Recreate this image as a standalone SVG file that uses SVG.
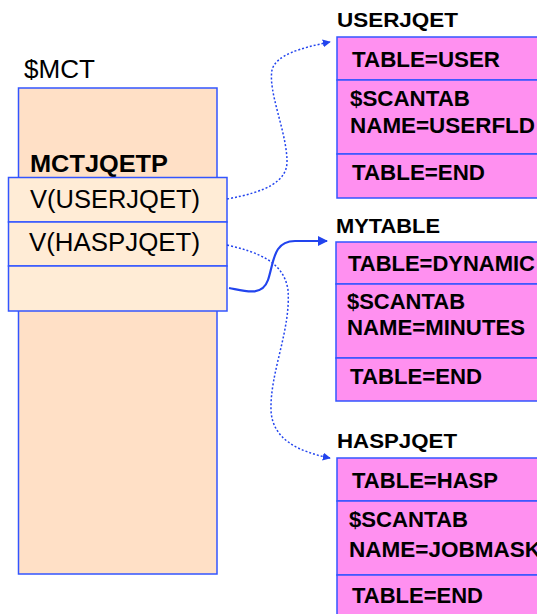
<svg xmlns="http://www.w3.org/2000/svg" width="537" height="614" viewBox="0 0 537 614">
<defs>
<style>
.box{stroke:#3355ff;stroke-width:1.5}
.mct{fill:#ffe0c6}
.entry{fill:#ffecd6}
.tab{fill:#ff90f0}
.t{font-family:"Liberation Sans",Arial,sans-serif;fill:#000}
.reg{font-size:25px}
.b{font-size:22px;font-weight:bold}
.lbl{font-size:21px;font-weight:bold}
.dot{fill:none;stroke:#2244ee;stroke-width:1.5;stroke-dasharray:2 2}
.sol{fill:none;stroke:#2244ee;stroke-width:2.2}
</style>
<marker id="ah" viewBox="0 0 10 10" refX="9" refY="5" markerWidth="8" markerHeight="8" markerUnits="userSpaceOnUse" orient="auto">
<path d="M0,0 L10,5 L0,10 Z" fill="#2244ee"/>
</marker>
<marker id="ah2" viewBox="0 0 10 10" refX="9" refY="5" markerWidth="10" markerHeight="10" markerUnits="userSpaceOnUse" orient="auto">
<path d="M0,0 L10,5 L0,10 Z" fill="#2244ee"/>
</marker>
</defs>
<g id="mct">
<text class="t reg" x="24" y="78" textLength="71" lengthAdjust="spacingAndGlyphs">$MCT</text>
<rect class="box mct" x="18.5" y="88" width="198.5" height="486"/>
<text class="t lbl" x="30" y="172" style="font-size:23px" textLength="138" lengthAdjust="spacingAndGlyphs">MCTJQETP</text>
</g>
<g id="mctjqetp">
<rect class="box entry" x="8.5" y="177.5" width="218.5" height="44.5"/>
<text class="t reg" x="30" y="208" textLength="170" lengthAdjust="spacingAndGlyphs">V(USERJQET)</text>
<rect class="box entry" x="8.5" y="222" width="218.5" height="44"/>
<text class="t reg" x="29" y="251" textLength="171" lengthAdjust="spacingAndGlyphs">V(HASPJQET)</text>
<rect class="box entry" x="8.5" y="266" width="218.5" height="45"/>
</g>
<g id="userjqet">
<text class="t lbl" x="337" y="27" textLength="121" lengthAdjust="spacingAndGlyphs">USERJQET</text>
<rect class="box tab" x="337" y="37" width="210" height="43"/>
<text class="t b" x="352" y="67" textLength="148" lengthAdjust="spacingAndGlyphs">TABLE=USER</text>
<rect class="box tab" x="337" y="80" width="210" height="74"/>
<text class="t b" x="350" y="106" textLength="120" lengthAdjust="spacingAndGlyphs">$SCANTAB</text>
<text class="t b" x="350" y="133" textLength="185" lengthAdjust="spacingAndGlyphs">NAME=USERFLD</text>
<rect class="box tab" x="337" y="154" width="210" height="44"/>
<text class="t b" x="352" y="180" textLength="133" lengthAdjust="spacingAndGlyphs">TABLE=END</text>
</g>
<g id="mytable">
<text class="t lbl" x="336" y="233" textLength="104" lengthAdjust="spacingAndGlyphs">MYTABLE</text>
<rect class="box tab" x="336" y="242" width="210" height="42"/>
<text class="t b" x="348" y="271" textLength="187" lengthAdjust="spacingAndGlyphs">TABLE=DYNAMIC</text>
<rect class="box tab" x="336" y="284" width="210" height="74"/>
<text class="t b" x="347" y="309" textLength="118" lengthAdjust="spacingAndGlyphs">$SCANTAB</text>
<text class="t b" x="347" y="335" textLength="178" lengthAdjust="spacingAndGlyphs">NAME=MINUTES</text>
<rect class="box tab" x="336" y="358" width="210" height="43"/>
<text class="t b" x="350" y="384" textLength="132" lengthAdjust="spacingAndGlyphs">TABLE=END</text>
</g>
<g id="haspjqet">
<text class="t lbl" x="337" y="448" textLength="120" lengthAdjust="spacingAndGlyphs">HASPJQET</text>
<rect class="box tab" x="337" y="458" width="210" height="43"/>
<text class="t b" x="352" y="488" textLength="146" lengthAdjust="spacingAndGlyphs">TABLE=HASP</text>
<rect class="box tab" x="337" y="501" width="210" height="74"/>
<text class="t b" x="349" y="527" textLength="119" lengthAdjust="spacingAndGlyphs">$SCANTAB</text>
<text class="t b" x="349" y="557" textLength="192" lengthAdjust="spacingAndGlyphs">NAME=JOBMASK</text>
<rect class="box tab" x="337" y="575" width="210" height="50"/>
<text class="t b" x="352" y="603" textLength="131" lengthAdjust="spacingAndGlyphs">TABLE=END</text>
</g>
<g id="connectors">
<path class="dot" d="M227,199 C265,192 288,182 287,160 C286,130 268,92 272,70 C276,55 300,48 330,42" marker-end="url(#ah)"/>
<path class="dot" d="M227,245 C258,252 284,262 288,290 C291,330 270,372 271,410 C272,440 300,452 330,458" marker-end="url(#ah)"/>
<path class="sol" d="M229,288 C245,291 262,297 268,280 C274,262 273,241 295,241 L327,241" marker-end="url(#ah2)"/>
</g>
</svg>
